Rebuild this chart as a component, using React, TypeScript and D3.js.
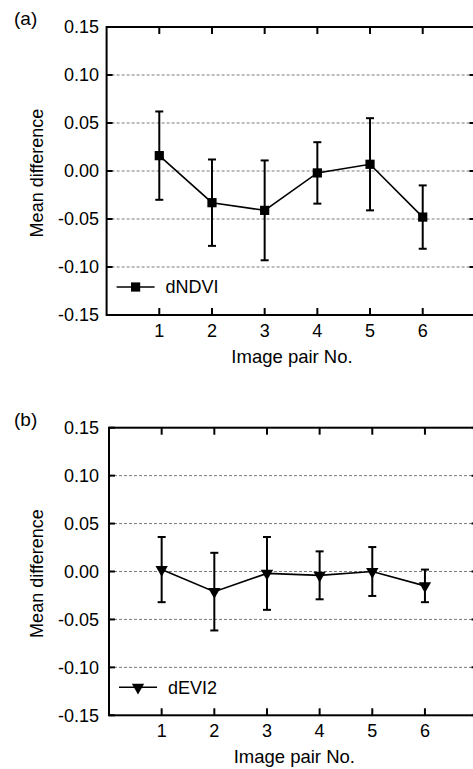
import * as d3 from 'd3'

// image pair numbers on the x axis
const PAIRS = [1, 2, 3, 4, 5, 6]
const X_TICKS = [1, 2, 3, 4, 5, 6]
const Y_TICKS = [-0.15, -0.1, -0.05, 0, 0.05, 0.1, 0.15]
const GRID_VALUES = [-0.1, -0.05, 0, 0.05, 0.1]

// (a) dNDVI mean difference and standard deviation
const NDVI_MEAN = [0.016, -0.033, -0.041, -0.002, 0.007, -0.048]
const NDVI_SD = [0.046, 0.045, 0.052, 0.032, 0.048, 0.033]

// (b) dEVI2 mean difference and standard deviation
const EVI_MEAN = [0.002, -0.021, -0.002, -0.004, 0.0, -0.015]
const EVI_SD = [0.034, 0.0405, 0.038, 0.025, 0.0255, 0.017]

const FONT = '"Liberation Sans", Arial, sans-serif'
const W = 473
const H = 769

// plain hyphen for negatives, like the original figure
const fmt = (v: number) => d3.format('.2f')(v).replace('\u2212', '-')

type PanelProps = {
  tag: string
  name: string
  means: number[]
  sds: number[]
  marker: 'square' | 'triangle'
  left: number
  right: number
  top: number
  bottom: number
}

function Panel({ tag, name, means, sds, marker, left, right, top, bottom }: PanelProps) {
  const x = d3.scaleLinear().domain([0, 7]).range([left, right])
  const y = d3.scaleLinear().domain([-0.15, 0.15]).range([bottom, top])

  const line = d3.line<number>()
    .x((_, i) => x(PAIRS[i]))
    .y(d => y(d))

  const sym = marker === 'square'
    ? d3.symbol().type(d3.symbolSquare).size(85)()
    : d3.symbol().type(d3.symbolTriangle).size(66)()
  const symRot = marker === 'triangle' ? ' rotate(180)' : ''

  const tickLen = 6
  const cap = 4
  const legY = bottom - 28

  return (
    <g>
      <text x={14} y={top - 2} fontSize={19} fontFamily={FONT}>{tag}</text>

      {/* dashed grid */}
      {GRID_VALUES.map(v => (
        <line key={'g' + v} x1={left} x2={right} y1={y(v)} y2={y(v)}
          stroke="#7a7a7a" strokeWidth={1} strokeDasharray="3,2" />
      ))}

      {/* frame */}
      <rect x={left} y={top} width={right - left} height={bottom - top}
        fill="none" stroke="#000" strokeWidth={2} />

      {/* y ticks on both sides, pointing in */}
      {Y_TICKS.map(v => (
        <g key={'y' + v}>
          <line x1={left} x2={left + tickLen} y1={y(v)} y2={y(v)} stroke="#000" strokeWidth={2} />
          <line x1={right - tickLen} x2={right} y1={y(v)} y2={y(v)} stroke="#000" strokeWidth={2} />
          <text x={99} y={y(v)} dy="0.35em" textAnchor="end" fontSize={18} fontFamily={FONT}>
            {fmt(v)}
          </text>
        </g>
      ))}

      {/* x ticks top and bottom, pointing in */}
      {X_TICKS.map(v => (
        <g key={'x' + v}>
          <line x1={x(v)} x2={x(v)} y1={top} y2={top + tickLen + 1} stroke="#000" strokeWidth={2} />
          <line x1={x(v)} x2={x(v)} y1={bottom} y2={bottom - tickLen - 1} stroke="#000" strokeWidth={2} />
          <text x={x(v)} y={bottom + 22} textAnchor="middle" fontSize={18} fontFamily={FONT}>{v}</text>
        </g>
      ))}

      <text x={x(3.5) + 1} y={bottom + 48} textAnchor="middle" fontSize={18.5} fontFamily={FONT}>
        Image pair No.
      </text>
      <text transform={`translate(43, ${(top + bottom) / 2 + 2}) rotate(-90)`} textAnchor="middle"
        fontSize={18} fontFamily={FONT}>
        Mean difference
      </text>

      {/* error bars */}
      {means.map((m, i) => (
        <g key={'e' + i} stroke="#000" strokeWidth={2}>
          <line x1={x(PAIRS[i])} x2={x(PAIRS[i])} y1={y(m + sds[i])} y2={y(m - sds[i])} />
          <line x1={x(PAIRS[i]) - cap} x2={x(PAIRS[i]) + cap} y1={y(m + sds[i])} y2={y(m + sds[i])} />
          <line x1={x(PAIRS[i]) - cap} x2={x(PAIRS[i]) + cap} y1={y(m - sds[i])} y2={y(m - sds[i])} />
        </g>
      ))}

      <path d={line(means) || ''} fill="none" stroke="#000" strokeWidth={1.6} />

      {means.map((m, i) => (
        <path key={'m' + i} d={sym || ''} fill="#000"
          transform={`translate(${x(PAIRS[i])},${y(m)})${symRot}`} />
      ))}

      {/* legend */}
      <line x1={left + 10} x2={left + 48} y1={legY} y2={legY} stroke="#000" strokeWidth={1.6} />
      <path d={sym || ''} fill="#000" transform={`translate(${left + 29},${legY})${symRot}`} />
      <text x={left + 59} y={legY} dy="0.35em" fontSize={18} fontFamily={FONT}>{name}</text>
    </g>
  )
}

export default function App() {
  return (
    <svg width={W} height={H} style={{ position: 'absolute', left: 0, top: 0, background: '#fff' }}>
      <Panel tag="(a)" name="dNDVI" means={NDVI_MEAN} sds={NDVI_SD} marker="square"
        left={106.6} right={475.4} top={27} bottom={315} />
      <Panel tag="(b)" name="dEVI2" means={EVI_MEAN} sds={EVI_SD} marker="triangle"
        left={109} right={477.6} top={427.7} bottom={715.3} />
    </svg>
  )
}
